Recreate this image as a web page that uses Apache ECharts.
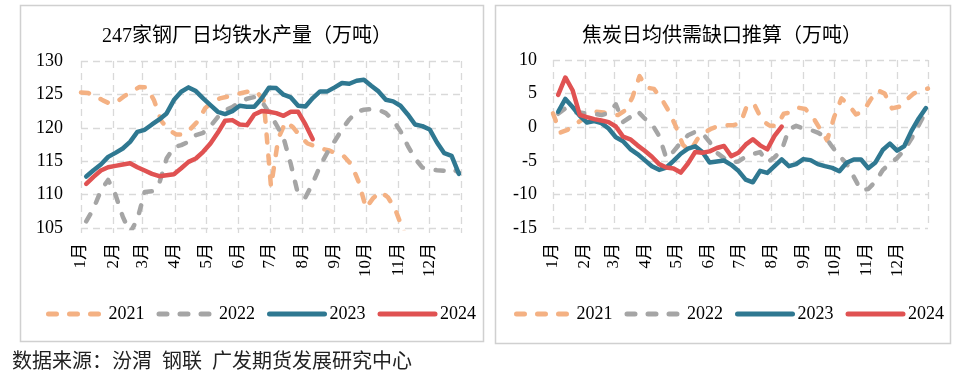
<!DOCTYPE html>
<html>
<head>
<meta charset="utf-8">
<script src="https://cdn.jsdelivr.net/npm/echarts@6/dist/echarts.min.js"></script>
<style>
  html, body { margin: 0; padding: 0; background: #fff; }
  #main { width: 973px; height: 376px; }
</style>
</head>
<body>
<div id="main"></div>
<script>
// 月份与年份
var monthNames = ['1月', '2月', '3月', '4月', '5月', '6月', '7月', '8月', '9月', '10月', '11月', '12月'];
var monthDays = [31, 28, 31, 30, 31, 30, 31, 31, 30, 31, 30, 31];
var years = ['2021', '2022', '2023', '2024'];
// 每年第一个周度数据所在的日序号（周五）
var firstDay = [0, 5, 5, 5];

// 247家钢厂日均铁水产量（万吨），周度
var iron2021 = [125.3, 125.2, 124.75, 124.1, 123.6, 123.95, 124.8, 125.5, 126.1, 126.05,
  124.1, 121.0, 119.75, 119.0, 119.0, 119.85, 121.0, 122.95, 123.9, 124.4,
  124.65, 124.95, 125.2, 125.45, 125.45, 124.1, 111.2, 118.4, 120.9, 120.1,
  118.75, 117.65, 117.25, 116.85, 116.6, 116.1, 115.7, 114.5, 111.9, 108.0,
  109.5, 110.4, 109.6, 107.8, 104.9, 102.5];
var iron2022 = [106.0, 107.9, 110.6, 112.2, 110.0, 106.7, 104.3, 106.3, 110.4, 110.5,
  111.7, 115.4, 117.1, 117.4, 117.9, 118.9, 119.25, 120.25, 121.6, 122.6,
  123.1, 123.9, 124.35, 124.6, 124.0, 122.3, 120.5, 118.5, 114.55, 110.0,
  109.6, 111.7, 114.3, 116.3, 118.0, 119.75, 121.25, 122.4, 122.7, 122.8,
  122.7, 122.2, 121.15, 119.5, 117.3, 115.4, 114.05, 113.8, 113.65, 113.55,
  113.9, 113.3];
var iron2023 = [112.7, 113.65, 114.5, 115.65, 116.25, 116.9, 117.9, 119.4, 119.7, 120.5,
  121.25, 122.15, 124.15, 125.4, 126.05, 125.5, 124.4, 123.4, 122.4, 122.05,
  122.5, 123.3, 123.15, 123.15, 124.4, 126.0, 125.95, 124.95, 124.55, 123.3,
  123.2, 124.45, 125.45, 125.45, 126.05, 126.7, 126.6, 127.05, 127.2, 126.3,
  125.45, 124.2, 123.95, 123.3, 122.0, 120.5, 120.25, 119.75, 117.8, 116.2,
  115.8, 113.1];
var iron2024 = [111.6, 112.65, 113.6, 114.1, 114.3, 114.5, 114.7, 114.1, 113.6, 113.1,
  112.75, 112.9, 113.05, 113.95, 114.9, 115.4, 116.4, 117.65, 119.25, 121.05,
  121.15, 120.5, 120.4, 122.0, 122.5, 122.4, 122.2, 121.8, 122.4, 122.4,
  120.5, 118.3];

// 焦炭日均供需缺口推算（万吨），周度
var coke2021 = [2.05, -0.8, -0.4, 0.35, 1.1, 2.0, 2.3, 2.2, 1.95, 1.8,
  2.5, 4.4, 7.6, 5.9, 5.7, 4.3, 2.5, 0.2, -2.6, -3.6,
  -1.8, -0.8, -0.2, 0.2, 0.3, 0.3, 0.6, 3.5, 3.2, 1.0,
  0.25, 0.2, 2.0, 2.2, 2.9, 2.7, 1.55, -0.2, -1.95, 1.55,
  4.3, 3.3, 1.9, 2.3, 4.05, 5.5, 5.0, 2.8, 3.05, 4.05,
  5.0, 5.5, 5.75];
var coke2022 = [2.0, 2.8, 2.2, 2.2, 2.0, 2.0, 1.8, 2.1, 3.4, 0.8,
  1.5, 2.4, 1.3, 0.5, -1.3, -4.6, -3.6, -2.3, -1.2, -0.7,
  -0.9, -2.2, -3.8, -4.6, -5.2, -5.1, -4.4, -4.0, -3.7, -5.2,
  -4.5, -3.4, -0.3, 0.2, -0.2, -0.4, -0.8, -1.4, -2.9, -4.3,
  -5.4, -7.4, -9.4, -9.2, -8.1, -6.4, -5.4, -4.6, -3.4, -1.7,
  0.3, 2.3];
var coke2023 = [2.3, 4.2, 3.0, 1.7, 0.7, 0.9, 0.6, -0.2, -1.5, -2.1,
  -3.25, -4.0, -4.9, -5.8, -6.35, -6.0, -5.0, -3.95, -3.2, -2.85,
  -3.7, -5.25, -5.1, -4.95, -5.6, -6.5, -7.8, -8.2, -6.5, -6.8,
  -5.8, -4.8, -5.8, -5.5, -4.75, -4.9, -5.5, -5.8, -6.05, -6.55,
  -5.3, -4.8, -4.8, -6.1, -5.25, -3.4, -2.45, -3.5, -2.8, -0.55,
  1.3, 2.85];
var coke2024 = [4.8, 7.4, 5.5, 1.85, 1.5, 1.2, 1.0, 0.75, 0.1, -1.4,
  -1.8, -2.7, -3.5, -4.4, -5.5, -6.0, -6.15, -6.75, -5.4, -3.7,
  -3.8, -3.6, -3.1, -2.8, -4.3, -3.8, -2.6, -1.8, -2.7, -3.3,
  -1.3, 0.1];

var ironData = [iron2021, iron2022, iron2023, iron2024];
var cokeData = [coke2021, coke2022, coke2023, coke2024];

var colors = ['#F4B183', '#A5A5A5', '#2F7891', '#E05252'];
var dashed = [true, true, false, false];

// 一年中的每一天作为类目，月初处画网格线
var days = [];
var monthStart = {};
for (var m = 0; m < 12; m++) {
  monthStart[days.length] = m;
  for (var d = 1; d <= monthDays[m]; d++) {
    days.push((m + 1) + '/' + d);
  }
}
var lastDay = days.length - 1;

function isGrid(idx) {
  return monthStart[idx] !== undefined || idx === lastDay;
}

var serif = "'Liberation Serif', 'Noto Sans CJK SC'";
var gridColor = '#d9d9d9';

function weekly(vals, start) {
  return vals.map(function (v, i) {
    return [start + 7 * i, v];
  });
}

function makeX(gridIndex) {
  return {
    type: 'category',
    gridIndex: gridIndex,
    data: days,
    boundaryGap: false,
    axisLine: {show: false},
    axisTick: {
      show: true,
      interval: function (idx) { return isGrid(idx); },
      length: 5,
      lineStyle: {color: gridColor, width: 1.3}
    },
    axisLabel: {
      interval: function (idx) { return monthStart[idx] !== undefined; },
      formatter: function (val, idx) { return monthNames[parseInt(val.split('/')[0], 10) - 1]; },
      rotate: 90,
      margin: 15,
      fontSize: 17,
      fontFamily: serif,
      color: '#000'
    },
    splitLine: {
      show: true,
      interval: function (idx) { return isGrid(idx); },
      lineStyle: {color: gridColor, width: 1.3, type: [7, 5]}
    }
  };
}

function makeY(gridIndex, min, max, margin) {
  return {
    type: 'value',
    gridIndex: gridIndex,
    min: min,
    max: max,
    interval: 5,
    axisLine: {show: false},
    axisTick: {show: false},
    axisLabel: {fontSize: 18, fontFamily: serif, color: '#000', margin: margin},
    splitLine: {lineStyle: {color: gridColor, width: 1.3, type: [7, 5]}}
  };
}

var series = [];
[ironData, cokeData].forEach(function (group, g) {
  group.forEach(function (vals, k) {
    series.push({
      name: years[k],
      type: 'line',
      xAxisIndex: g,
      yAxisIndex: g,
      data: weekly(vals, firstDay[k]),
      symbol: 'none',
      clip: true,
      z: 2 + k,
      color: colors[k],
      lineStyle: {
        color: colors[k],
        width: 4.5,
        type: dashed[k] ? [8, 13] : 'solid',
        cap: 'round',
        join: 'round'
      },
      emphasis: {disabled: true}
    });
  });
});

function makeLegend(left) {
  return {
    data: years,
    left: left,
    top: 300,
    itemWidth: 55,
    itemHeight: 14,
    itemGap: 12,
    selectedMode: false,
    lineStyle: {width: 5},
    itemStyle: {opacity: 0},
    textStyle: {fontSize: 18, fontFamily: serif, color: '#000'}
  };
}

var chart = echarts.init(document.getElementById('main'), null, {renderer: 'canvas'});
chart.setOption({
  animation: false,
  backgroundColor: '#fff',
  grid: [
    {left: 81, top: 61, width: 380, height: 167},
    {left: 553, top: 60, width: 375, height: 168}
  ],
  xAxis: [makeX(0), makeX(1)],
  yAxis: [makeY(0, 105, 130, 18), makeY(1, -15, 10, 16)],
  legend: [makeLegend(41), makeLegend(509)],
  series: series,
  graphic: [
    {type: 'rect', silent: true, z: -10,
      shape: {x: 20.5, y: 5.5, width: 463, height: 336},
      style: {fill: 'none', stroke: '#d0d0d0', lineWidth: 1.5}},
    {type: 'rect', silent: true, z: -10,
      shape: {x: 495.5, y: 5.5, width: 455, height: 338},
      style: {fill: 'none', stroke: '#d0d0d0', lineWidth: 1.5}},
    {type: 'text', x: 247, y: 37, silent: true,
      style: {text: '247家钢厂日均铁水产量（万吨）', align: 'center', verticalAlign: 'middle',
        fontSize: 20, fontFamily: serif, fill: '#000'}},
    {type: 'text', x: 722, y: 37, silent: true,
      style: {text: '焦炭日均供需缺口推算（万吨）', align: 'center', verticalAlign: 'middle',
        fontSize: 20, fontFamily: serif, fill: '#000'}},
    {type: 'text', x: 12, y: 363, silent: true,
      style: {text: '数据来源：汾渭  钢联  广发期货发展研究中心', align: 'left', verticalAlign: 'middle',
        fontSize: 20, fontFamily: serif, fill: '#222'}}
  ]
});
</script>
</body>
</html>
